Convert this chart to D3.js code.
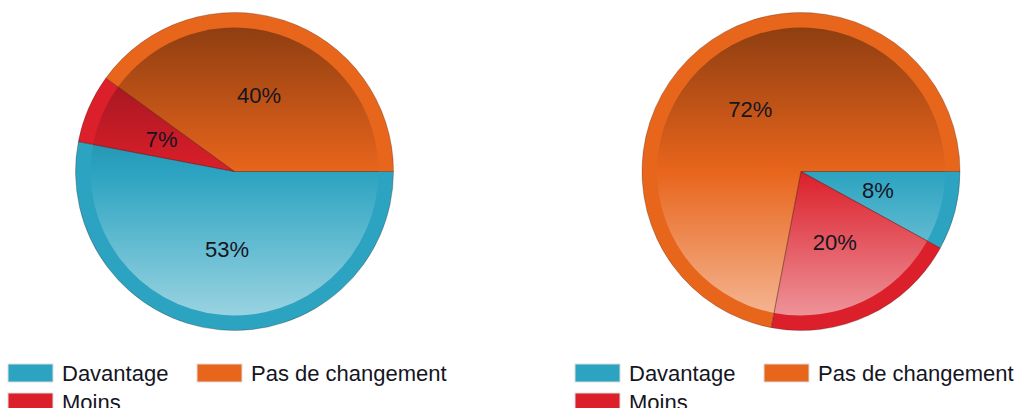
<!DOCTYPE html>
<html>
<head>
<meta charset="utf-8">
<script src="https://cdn.jsdelivr.net/npm/d3@7"></script>
<style>
  html, body { margin: 0; padding: 0; background: #fff; }
  svg { display: block; }
</style>
</head>
<body>
<svg id="chart" width="1022" height="408"></svg>
<script>
// Categories in slice order (clockwise from 3 o'clock)
const categories = ["Davantage", "Moins", "Pas de changement"];
// Legend order
const legendOrder = ["Davantage", "Pas de changement", "Moins"];
// Percentages for each pie
const leftValues = [53, 7, 40];
const rightValues = [8, 20, 72];
const colors = { "Davantage": "#2ba3c1", "Moins": "#db1f2b", "Pas de changement": "#e8651c" };

const svg = d3.select("#chart");
const defs = svg.append("defs");

const R = 159, rim = 15;
const pies = [
  { id: "p0", cx: 234.5, cy: 171.5, values: leftValues, legendX: 8 },
  { id: "p1", cx: 801, cy: 171.5, values: rightValues, legendX: 575 }
];

const pie = d3.pie().sort(null).value(d => d.value)
  .startAngle(Math.PI / 2).endAngle(Math.PI / 2 + 2 * Math.PI);
const outerArc = d3.arc().innerRadius(0).outerRadius(R);
const innerArc = d3.arc().innerRadius(0).outerRadius(R - rim);

pies.forEach(p => {
  const data = categories.map((c, i) => ({ cat: c, value: p.values[i] }));
  // vertical shading per colour: dark at top, base at centre, light at bottom
  categories.forEach((c, i) => {
    const base = d3.rgb(colors[c]);
    const g = defs.append("linearGradient")
      .attr("id", `${p.id}g${i}`)
      .attr("gradientUnits", "userSpaceOnUse")
      .attr("x1", 0).attr("x2", 0)
      .attr("y1", -(R - rim)).attr("y2", R - rim);
    g.append("stop").attr("offset", 0).attr("stop-color", base.darker(1.35));
    g.append("stop").attr("offset", 0.5).attr("stop-color", base);
    g.append("stop").attr("offset", 1).attr("stop-color", d3.interpolateRgb(base, "#fff")(0.52));
  });

  const g = svg.append("g").attr("transform", `translate(${p.cx},${p.cy})`);
  const arcs = pie(data);

  g.selectAll("path.rim").data(arcs).join("path")
    .attr("class", "rim")
    .attr("d", outerArc)
    .attr("fill", d => colors[d.data.cat]);

  g.selectAll("path.inner").data(arcs).join("path")
    .attr("class", "inner")
    .attr("d", innerArc)
    .attr("fill", (d, i) => `url(#${p.id}g${i})`);

  g.selectAll("path.edge").data(arcs).join("path")
    .attr("class", "edge")
    .attr("d", outerArc)
    .attr("fill", "none")
    .attr("stroke", "rgba(60,30,20,0.35)")
    .attr("stroke-width", 0.8);

  g.selectAll("text.lbl").data(arcs).join("text")
    .attr("class", "lbl")
    .attr("transform", d => `translate(${outerArc.centroid(d)})`)
    .attr("text-anchor", "middle")
    .attr("dy", "0.3em")
    .attr("font-family", "Liberation Sans, Arial, sans-serif")
    .attr("font-size", 22)
    .attr("fill", "#15151f")
    .text(d => d.data.value + "%");

  // legend
  const lg = svg.append("g").attr("transform", `translate(${p.legendX},364)`);
  const pos = [[0, 0], [189, 0], [0, 29]];
  legendOrder.forEach((c, i) => {
    const item = lg.append("g").attr("transform", `translate(${pos[i][0]},${pos[i][1]})`);
    item.append("rect").attr("width", 45).attr("height", 18)
      .attr("fill", colors[c]).attr("stroke", "#ddd").attr("stroke-width", 1);
    item.append("text").attr("x", 54).attr("y", 17)
      .attr("font-family", "Liberation Sans, Arial, sans-serif")
      .attr("font-size", 22)
      .attr("fill", "#15151f")
      .text(c);
  });
});
</script>
</body>
</html>
